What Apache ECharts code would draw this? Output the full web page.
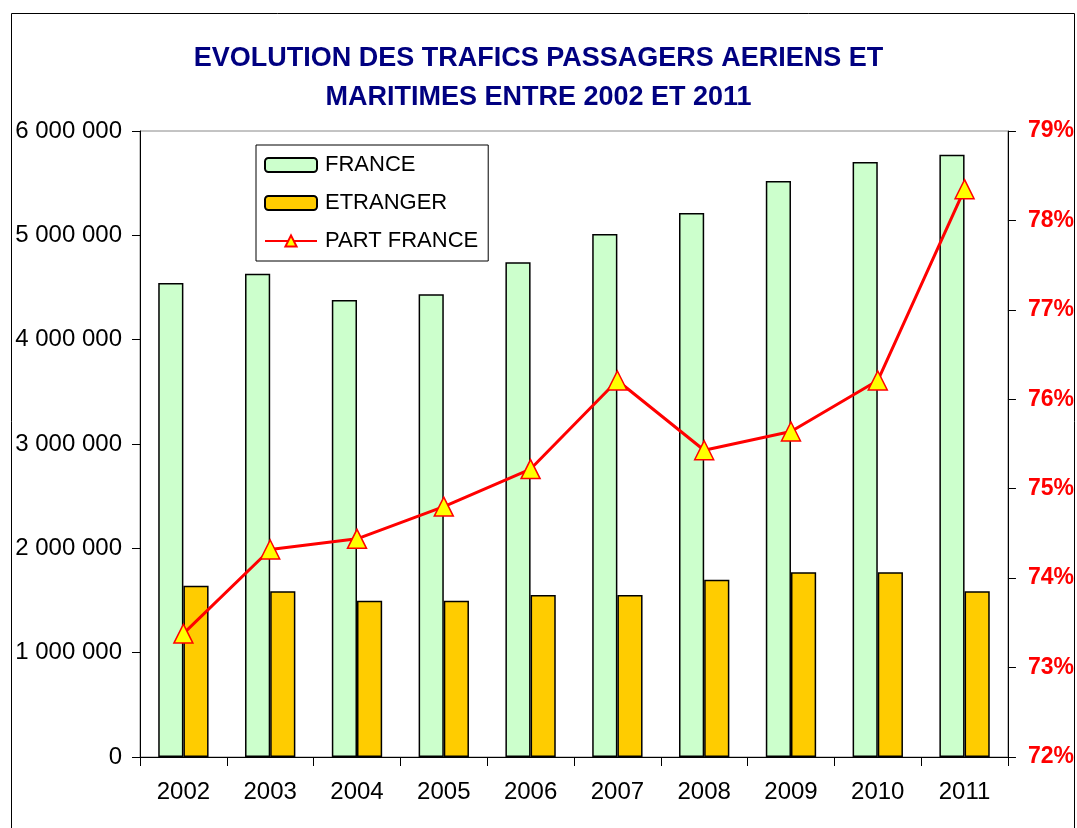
<!DOCTYPE html>
<html>
<head>
<meta charset="utf-8">
<script src="https://cdn.jsdelivr.net/npm/echarts@6/dist/echarts.min.js"></script>
<style>
  html, body { margin: 0; padding: 0; background: #fff; }
  #main { width: 1077px; height: 828px; }
</style>
</head>
<body>
<div id="main"></div>
<script>
var years = ['2002', '2003', '2004', '2005', '2006', '2007', '2008', '2009', '2010', '2011'];
var france = [4543000, 4632000, 4380000, 4435000, 4741000, 5013000, 5214000, 5521000, 5703000, 5773000];
var etranger = [1642000, 1588000, 1498000, 1498000, 1553000, 1553000, 1700000, 1770000, 1770000, 1588000];
var partFrance = [73.38, 74.32, 74.44, 74.80, 75.22, 76.21, 75.43, 75.64, 76.21, 78.35];

var myChart = echarts.init(document.getElementById('main'));

var fmtSpaces = function (v) {
    return String(v).replace(/\B(?=(\d{3})+(?!\d))/g, ' ');
};

var option = {
    backgroundColor: '#fff',
    animation: false,
    textStyle: { fontFamily: 'Liberation Sans, Arial, sans-serif' },
    title: {
        text: 'EVOLUTION DES TRAFICS PASSAGERS AERIENS ET\nMARITIMES ENTRE 2002 ET 2011',
        left: 'center',
        top: 34,
        textStyle: {
            color: '#000080',
            fontSize: 27,
            fontWeight: 'bold',
            lineHeight: 39
        }
    },
    graphic: [{
        type: 'rect',
        silent: true,
        shape: { x: 11.5, y: 13.5, width: 1063, height: 830 },
        style: { fill: 'none', stroke: '#000', lineWidth: 1 }
    }],
    legend: {
        orient: 'vertical',
        left: 256,
        top: 145,
        padding: [9, 10, 9, 8],
        itemGap: 16,
        itemWidth: 52,
        itemHeight: 14,
        backgroundColor: '#fff',
        borderColor: '#000',
        borderWidth: 1,
        borderRadius: 0,
        textStyle: { fontSize: 22, color: '#000', padding: [0, 0, 0, 3] },
        data: ['FRANCE', 'ETRANGER', 'PART FRANCE']
    },
    grid: {
        left: 140,
        right: 67,
        top: 131,
        bottom: 71,
        show: true,
        borderColor: '#888',
        borderWidth: 1,
        containLabel: false
    },
    xAxis: {
        type: 'category',
        data: years,
        axisLine: { lineStyle: { color: '#000', width: 1 } },
        axisTick: { show: true, length: 9, lineStyle: { color: '#000' } },
        axisLabel: { fontSize: 24, color: '#000', margin: 23 }
    },
    yAxis: [{
        type: 'value',
        min: 0,
        max: 6000000,
        interval: 1000000,
        axisLine: { show: true, lineStyle: { color: '#000' } },
        axisTick: { show: true, length: 8, lineStyle: { color: '#000' } },
        splitLine: { show: false },
        axisLabel: { fontSize: 24, color: '#000', margin: 18, formatter: fmtSpaces }
    }, {
        type: 'value',
        min: 72,
        max: 79,
        interval: 1,
        position: 'right',
        axisLine: { show: true, lineStyle: { color: '#000' } },
        axisTick: { show: true, length: 8, lineStyle: { color: '#000' } },
        splitLine: { show: false },
        axisLabel: {
            fontSize: 23,
            fontWeight: 'bold',
            color: '#ff0000',
            margin: 20,
            formatter: '{value}%'
        }
    }],
    series: [{
        name: 'FRANCE',
        type: 'bar',
        data: france,
        barGap: '0%',
        barCategoryGap: '42%',
        itemStyle: { color: '#ccffcc', borderColor: '#000', borderWidth: 1.5 }
    }, {
        name: 'ETRANGER',
        type: 'bar',
        data: etranger,
        itemStyle: { color: '#ffcc00', borderColor: '#000', borderWidth: 1.5 }
    }, {
        name: 'PART FRANCE',
        type: 'line',
        yAxisIndex: 1,
        data: partFrance,
        symbol: 'triangle',
        symbolSize: 19,
        lineStyle: { color: '#ff0000', width: 3 },
        itemStyle: { color: '#ffff00', borderColor: '#ff0000', borderWidth: 1.5 },
        z: 5
    }]
};

myChart.setOption(option);
</script>
</body>
</html>
